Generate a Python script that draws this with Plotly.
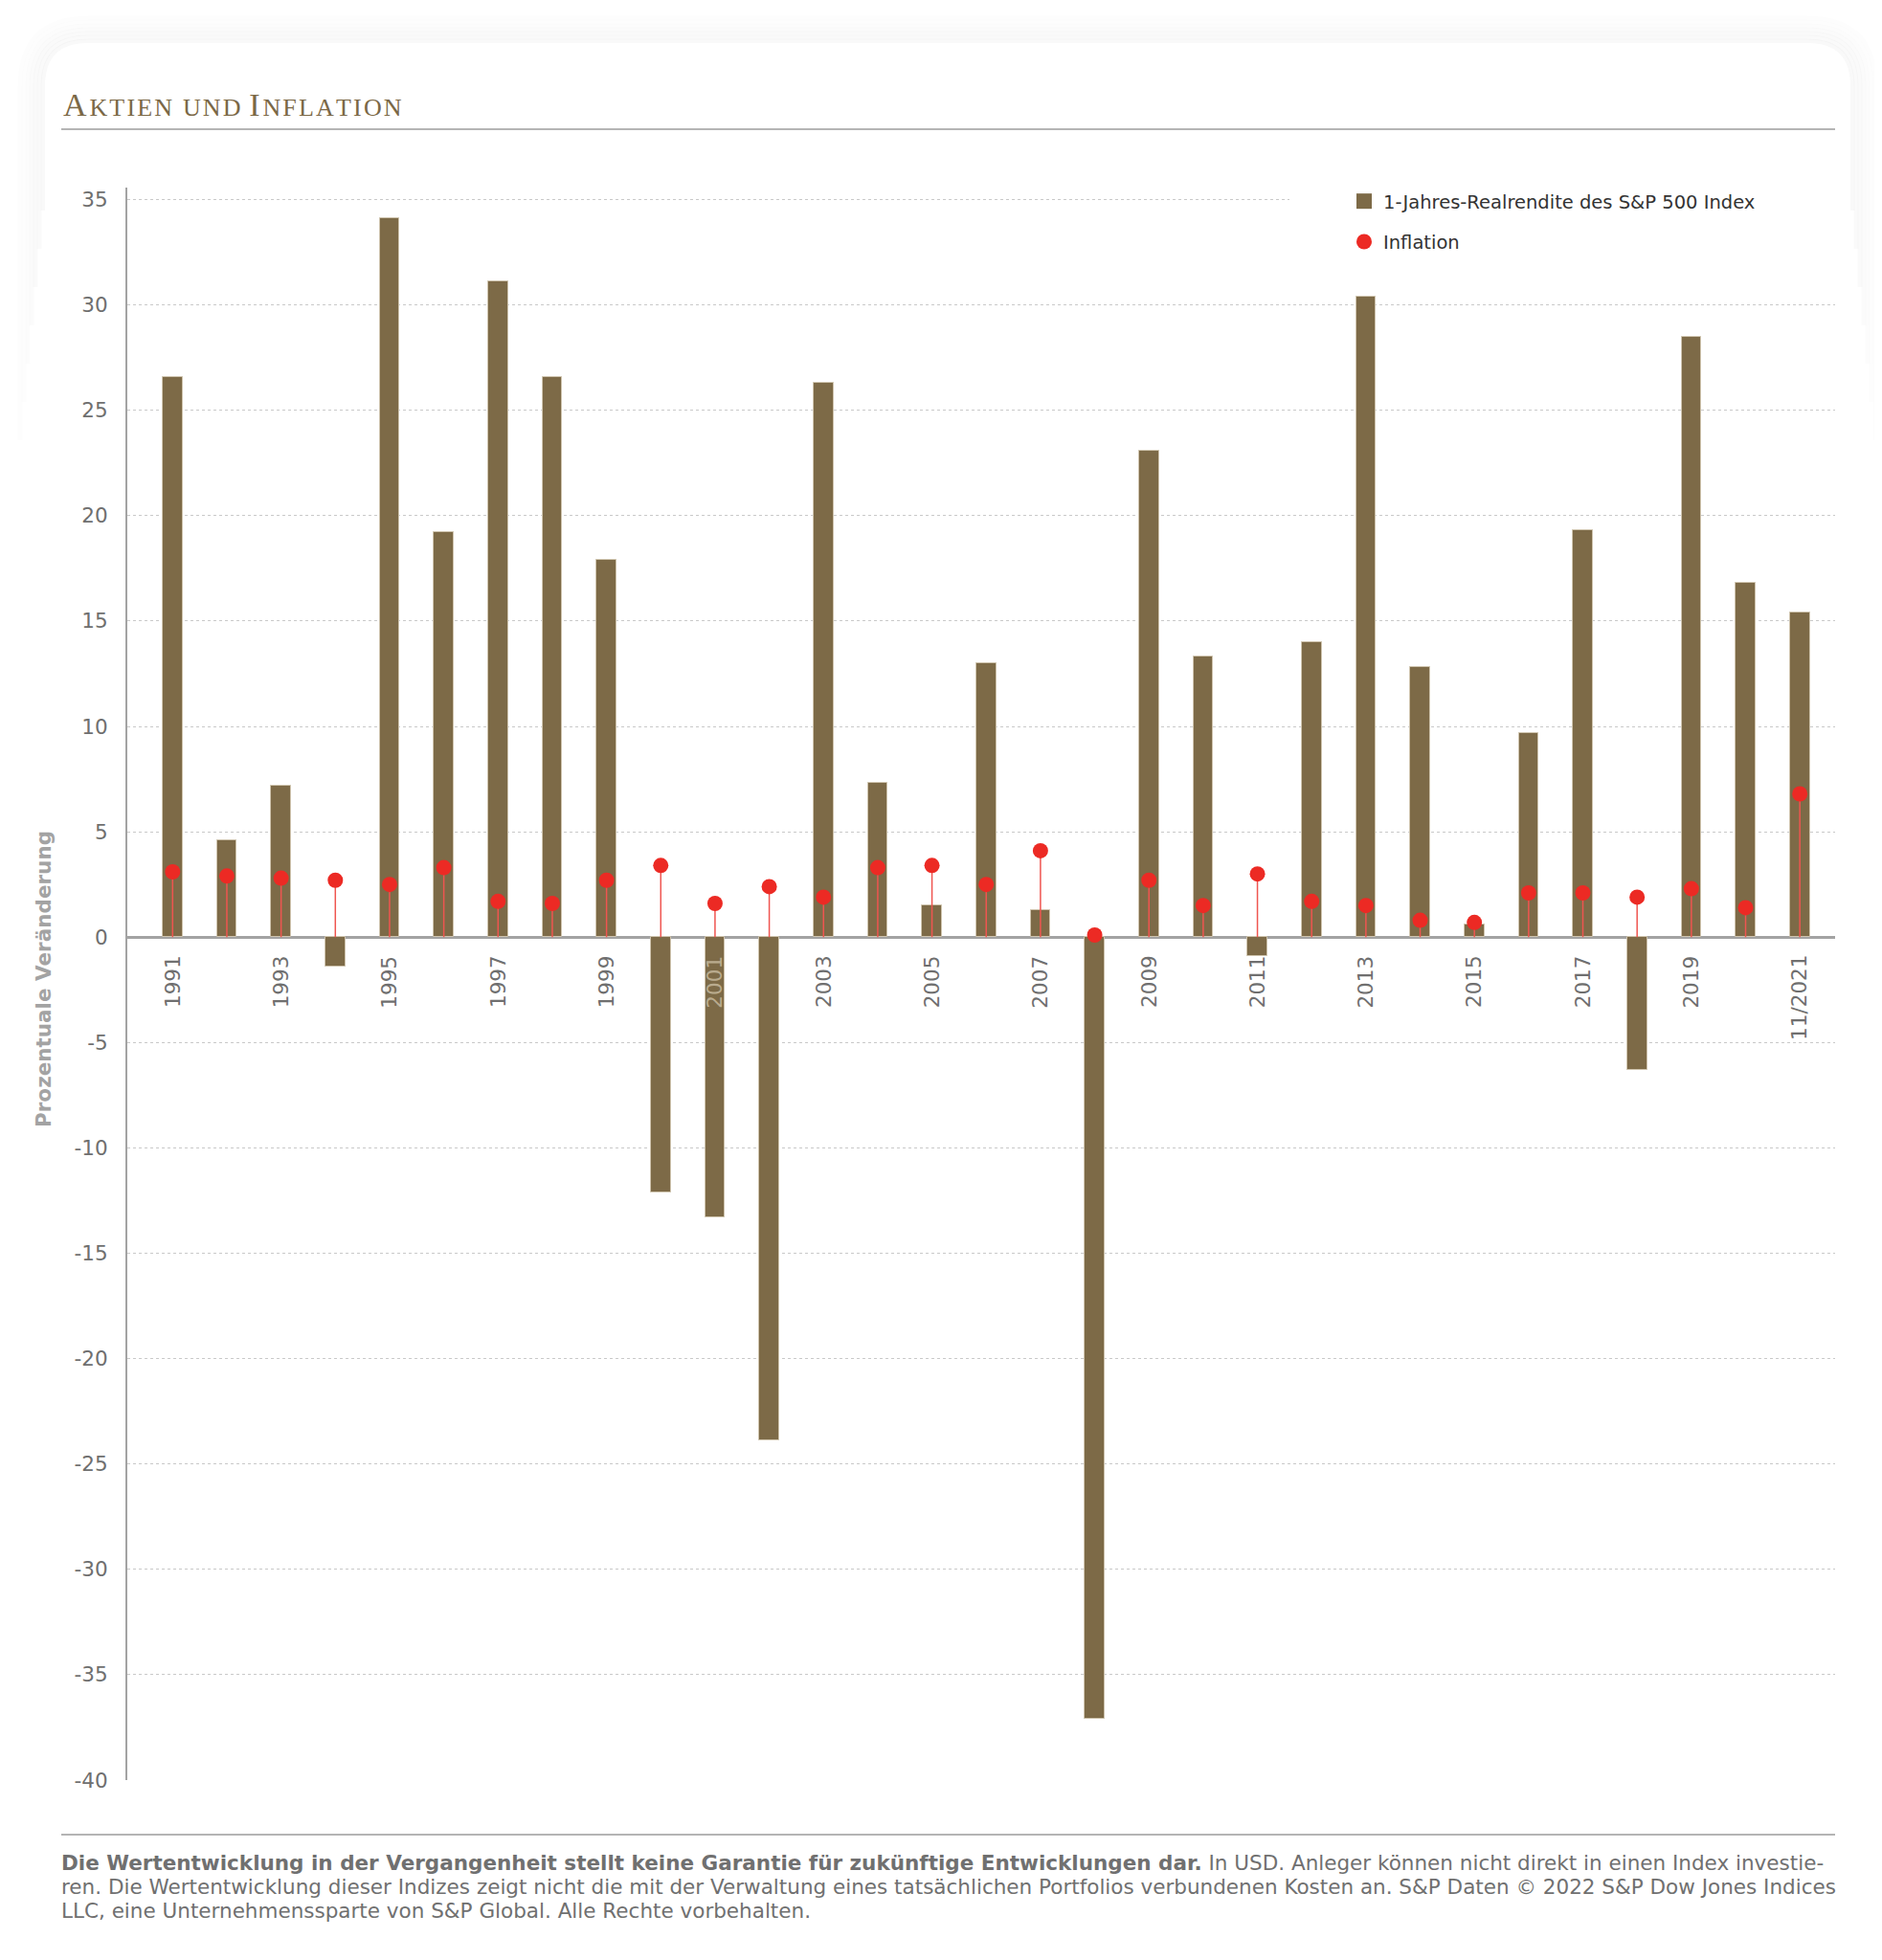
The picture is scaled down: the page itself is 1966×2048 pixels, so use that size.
import plotly.graph_objects as go

# data
years = list(range(1991, 2022))
real_return = [26.6, 4.6, 7.2, -1.4, 34.1, 19.2, 31.1, 26.6, 17.9, -12.1,
               -13.3, -23.9, 26.3, 7.3, 1.5, 13.0, 1.3, -37.1, 23.1, 13.3,
               -0.9, 14.0, 30.4, 12.8, 0.6, 9.7, 19.3, -6.3, 28.5, 16.8, 15.4]
inflation = [3.1, 2.9, 2.8, 2.7, 2.5, 3.3, 1.7, 1.6, 2.7, 3.4,
             1.6, 2.4, 1.9, 3.3, 3.4, 2.5, 4.1, 0.1, 2.7, 1.5,
             3.0, 1.7, 1.5, 0.8, 0.7, 2.1, 2.1, 1.9, 2.3, 1.4, 6.8]
tick_years = years[::2]
tick_labels = [str(y) for y in tick_years[:-1]] + ["11/2021"]
y_ticks = list(range(-40, 40, 5))

name_return = "1-Jahres-Realrendite des S&P 500 Index"
name_inflation = "Inflation"
y_title = "Prozentuale Veränderung"
footnote = [
    "<b>Die Wertentwicklung in der Vergangenheit stellt keine Garantie für zukünftige Entwicklungen dar.</b>"
    " In USD. Anleger können nicht direkt in einen Index investie-",
    "ren. Die Wertentwicklung dieser Indizes zeigt nicht die mit der Verwaltung eines tatsächlichen"
    " Portfolios verbundenen Kosten an. S&P Daten © 2022 S&P Dow Jones Indices",
    "LLC, eine Unternehmenssparte von S&P Global. Alle Rechte vorbehalten.",
]

BROWN = "#7d6a47"
RED = "#ec2a24"
GREY_TXT = "#6f6f6f"
SANS = "DejaVu Sans"

# page geometry in page pixels (the html body adds an 8px margin)
OFF = 8
W, H = 1966, 2048
L, R, T, B = 133, 1917, 196, 1860


def px_x(p):
    return (p - L) / (R - L)


def px_y(p):
    return (B - p) / (B - T)


def top_path(x0, y0, x1, y_end, r):
    # open path: left side up, rounded top corners, right side down
    rx = r / (R - L)
    ry = r / (B - T)
    return (f"M{px_x(x0)},{px_y(y_end)} L{px_x(x0)},{px_y(y0) - ry} "
            f"Q{px_x(x0)},{px_y(y0)} {px_x(x0) + rx},{px_y(y0)} "
            f"L{px_x(x1) - rx},{px_y(y0)} "
            f"Q{px_x(x1)},{px_y(y0)} {px_x(x1)},{px_y(y0) - ry} "
            f"L{px_x(x1)},{px_y(y_end)}")


fig = go.Figure()

fig.add_trace(go.Bar(
    x=years, y=real_return, width=0.365,
    marker=dict(color=BROWN, line=dict(color="#cfc4ae", width=1)),
    showlegend=False, name=name_return,
))
# legend entry with a square symbol
fig.add_trace(go.Scatter(
    x=[None], y=[None], mode="markers", name=name_return,
    marker=dict(symbol="square", size=16, color=BROWN),
    legendgroup="a",
))
fig.add_trace(go.Scatter(
    x=years, y=inflation, mode="markers", name=name_inflation,
    marker=dict(color=RED, size=16),
    error_y=dict(type="data", symmetric=False, array=[0] * len(inflation),
                 arrayminus=inflation, width=0, thickness=1.5, color="#ef5550"),
    legendgroup="b",
))

shapes = []
# card shadow + card
for i in range(7):
    o = 2 + i * 4
    shapes.append(dict(
        type="path", xref="paper", yref="paper", layer="below",
        path=top_path(47 - o, 45 - o, 1933 + o, 220 + i * 40, 45 + o),
        line=dict(color=f"rgba(0,0,0,{0.024 * (1 - i / 8):.4f})", width=5),
    ))
shapes.append(dict(
    type="path", xref="paper", yref="paper", layer="below",
    path=top_path(47, 45, 1933, 2100, 45) + " Z",
    fillcolor="white", line=dict(width=0),
))
# title rule, footer rule
shapes.append(dict(type="line", xref="paper", yref="paper", x0=px_x(64), x1=px_x(1917),
                   y0=px_y(135), y1=px_y(135), line=dict(color="#9c9c9c", width=1.5)))
shapes.append(dict(type="line", xref="paper", yref="paper", x0=px_x(64), x1=px_x(1917),
                   y0=px_y(1917), y1=px_y(1917), line=dict(color="#b4b4b4", width=2)))
# white patch behind the legend hiding the grid line
shapes.append(dict(type="rect", xref="paper", yref="paper", layer="above",
                   x0=px_x(1347), x1=px_x(1922), y0=px_y(222), y1=px_y(199),
                   fillcolor="white", line=dict(width=0)))

HS = "\u200a"


def spaced(s):
    return HS.join(s)


annotations = []
annotations.append(dict(
    xref="paper", yref="paper", x=px_x(64), y=px_y(109), xanchor="left", yanchor="middle",
    showarrow=False,
    text=(f'A{HS}<span style="font-size:26px">{spaced("KTIEN UND")}{HS} </span>'
          f'I{HS}<span style="font-size:26px">{spaced("NFLATION")}</span>'),
    font=dict(family="Liberation Serif", size=34, color="#7b6846"),
))
annotations.append(dict(
    xref="paper", yref="paper", x=px_x(45), y=px_y(1023), xanchor="center", yanchor="middle",
    showarrow=False, textangle=-90, text=y_title,
    font=dict(family=SANS, size=21.5, color="#a3a3a3", weight="bold"),
))
ret_by_year = dict(zip(years, real_return))
for yr, lab in zip(tick_years, tick_labels):
    col = "#b9ab8e" if ret_by_year[yr] < -3 else GREY_TXT
    annotations.append(dict(
        x=yr, y=0, xref="x", yref="y", xanchor="center", yanchor="top", yshift=-17,
        showarrow=False, textangle=-90, text=lab,
        font=dict(family=SANS, size=21.5, color=col),
    ))
for i, line in enumerate(footnote):
    annotations.append(dict(
        xref="paper", yref="paper", x=px_x(62), y=px_y(1947 + i * 24.5),
        xanchor="left", yanchor="middle", showarrow=False, text=line,
        font=dict(family=SANS, size=21.5, color="#707070"),
    ))

fig.update_layout(
    width=W, height=H,
    margin=dict(l=L - OFF, r=W - R + OFF, t=T - OFF, b=H - B + OFF, pad=0),
    paper_bgcolor="white", plot_bgcolor="rgba(0,0,0,0)",
    bargap=0,
    shapes=shapes, annotations=annotations,
    legend=dict(
        x=px_x(1405), y=px_y(191), xanchor="left", yanchor="top",
        bgcolor="rgba(0,0,0,0)", font=dict(family=SANS, size=19.5, color="#333333"),
        tracegroupgap=14, itemsizing="trace",
    ),
    xaxis=dict(range=[1990.165, 2021.65], showticklabels=False, showgrid=False,
               zeroline=False, showline=False, fixedrange=True),
    yaxis=dict(
        range=[-40, 35.57], tickvals=y_ticks, ticktext=[str(v) for v in y_ticks],
        showgrid=True, gridcolor="#c9c9c9", gridwidth=1, griddash="3px,3px",
        zeroline=True, zerolinecolor="#a3a3a3", zerolinewidth=2.5,
        showline=True, linecolor="#a3a3a3", linewidth=2,
        ticks="", ticklabelstandoff=14,
        tickfont=dict(family=SANS, size=21.5, color=GREY_TXT),
    ),
)

fig.write_html("out.html")
